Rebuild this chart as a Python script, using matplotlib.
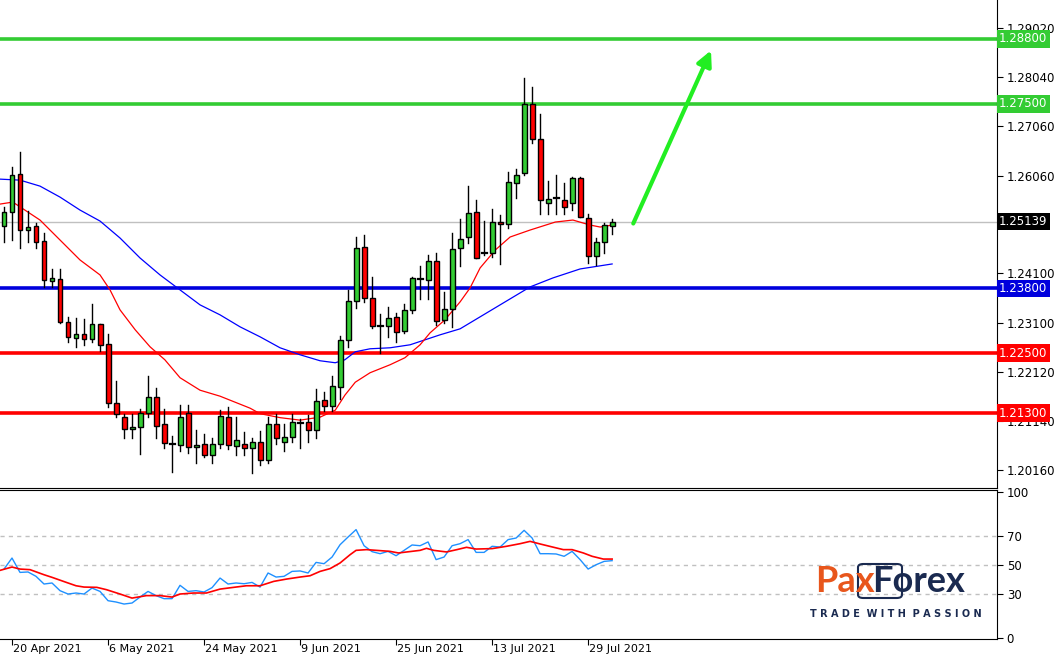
import matplotlib
matplotlib.use("Agg")
import matplotlib.pyplot as plt
from matplotlib.patches import Rectangle, FancyBboxPatch
import numpy as np

# ---- data ----
opens  = [1.2505,1.2533,1.2609,1.2497,1.2505,1.2475,1.2395,1.2399,1.2313,1.2281,1.2289,1.2279,1.2309,1.2269,1.2151,1.2123,1.2098,1.2102,1.2131,1.2163,
          1.2108,1.2068,1.2066,1.2131,1.2062,1.2068,1.2046,1.2068,1.2123,1.2064,1.2068,1.2060,1.2072,1.2036,1.2108,1.2072,1.2082,1.2110,1.2112,1.2096,
          1.2157,1.2145,1.2183,1.2277,1.2355,1.2463,1.2361,1.2305,1.2305,1.2323,1.2295,1.2337,1.2399,1.2397,1.2435,1.2317,1.2339,1.2461,1.2483,1.2533,
          1.2451,1.2451,1.2513,1.2509,1.2591,1.2611,1.2750,1.2679,1.2551,1.2561,1.2557,1.2551,1.2601,1.2521,1.2445,1.2473,1.2505]
highs  = [1.2543,1.2623,1.2653,1.2535,1.2511,1.2491,1.2419,1.2419,1.2323,1.2321,1.2319,1.2349,1.2309,1.2289,1.2195,1.2129,1.2129,1.2139,1.2205,1.2181,
          1.2139,1.2084,1.2147,1.2147,1.2096,1.2088,1.2080,1.2136,1.2143,1.2123,1.2092,1.2080,1.2094,1.2123,1.2129,1.2108,1.2129,1.2119,1.2127,1.2179,
          1.2173,1.2205,1.2285,1.2377,1.2483,1.2487,1.2403,1.2329,1.2343,1.2331,1.2349,1.2403,1.2425,1.2447,1.2451,1.2373,1.2491,1.2519,1.2585,1.2557,
          1.2515,1.2539,1.2527,1.2613,1.2619,1.2802,1.2784,1.2730,1.2595,1.2607,1.2591,1.2603,1.2603,1.2529,1.2481,1.2511,1.2519]
lows   = [1.2473,1.2477,1.2461,1.2473,1.2461,1.2383,1.2383,1.2311,1.2273,1.2263,1.2267,1.2273,1.2255,1.2143,1.2123,1.2080,1.2080,1.2048,1.2123,1.2080,
          1.2060,1.2012,1.2054,1.2050,1.2030,1.2042,1.2030,1.2060,1.2058,1.2046,1.2046,1.2010,1.2026,1.2030,1.2068,1.2054,1.2072,1.2060,1.2072,1.2080,
          1.2135,1.2135,1.2159,1.2263,1.2341,1.2353,1.2301,1.2251,1.2283,1.2273,1.2291,1.2331,1.2359,1.2359,1.2307,1.2311,1.2303,1.2425,1.2471,1.2441,
          1.2447,1.2443,1.2429,1.2501,1.2561,1.2607,1.2671,1.2529,1.2529,1.2529,1.2529,1.2537,1.2523,1.2431,1.2427,1.2451,1.2489]
closes = [1.2533,1.2607,1.2497,1.2503,1.2473,1.2397,1.2401,1.2313,1.2283,1.2289,1.2279,1.2309,1.2267,1.2151,1.2129,1.2098,1.2102,1.2131,1.2163,1.2104,
          1.2070,1.2067,1.2123,1.2062,1.2066,1.2046,1.2068,1.2125,1.2066,1.2076,1.2060,1.2072,1.2036,1.2108,1.2080,1.2082,1.2112,1.2108,1.2096,1.2155,
          1.2145,1.2185,1.2277,1.2355,1.2461,1.2361,1.2305,1.2304,1.2321,1.2293,1.2337,1.2401,1.2400,1.2435,1.2315,1.2339,1.2459,1.2479,1.2531,1.2441,
          1.2452,1.2513,1.2509,1.2593,1.2607,1.2750,1.2679,1.2557,1.2559,1.2560,1.2543,1.2601,1.2523,1.2445,1.2473,1.2507,1.2514]

ma_fast_pos = [0.5,2.1,5.5,8,10.5,13,14.25,15.5,17.4,19.25,21.1,23,25.5,28,31.75,33,35.5,38,40.5,42.4,43.6,44.9,46.75,49.25,51.1,53,54.25,56.1,58,59.25,60.5,62.4,64.25,66.75,69.9,72.1,74.25,75.5,77]
ma_fast_val = [1.2549,1.2553,1.2517,1.2477,1.2437,1.2407,1.2377,1.2337,1.2297,1.2263,1.2237,1.2201,1.2176,1.2164,1.2140,1.2129,1.2121,1.2116,1.2122,1.2136,1.2166,1.2192,1.2211,1.2227,1.2241,1.2267,1.2291,1.2317,1.2353,1.2381,1.2421,1.2457,1.2483,1.2497,1.2513,1.2517,1.2507,1.2503,1.2507]
ma_slow_pos = [0.5,3,5.5,8,10.5,13,15.5,18,20.5,23,25.5,28,30.5,33,35.5,38,40.5,42.4,43.6,44.9,46.75,49.25,51.75,55.5,58,63,66.75,69.6,73,77]
ma_slow_val = [1.2599,1.2597,1.2585,1.2563,1.2537,1.2515,1.2481,1.2441,1.2407,1.2377,1.2347,1.2327,1.2303,1.2283,1.2261,1.2247,1.2235,1.2231,1.2237,1.2253,1.2259,1.2261,1.2267,1.2287,1.2299,1.2347,1.2383,1.2401,1.2419,1.2429]

rsi = [47.2,54.8,44.9,45.2,42.2,36.9,37.6,32.3,30.0,30.7,30.0,34.1,31.8,25.4,24.5,23.1,23.8,27.9,31.8,28.9,
       26.8,26.8,36.0,31.8,32.3,31.4,34.4,41.0,36.9,37.6,37.1,38.0,34.8,44.5,41.7,42.2,45.6,45.9,44.5,51.8,
       50.9,55.5,64.0,69.3,74.4,63.3,59.2,57.8,59.4,56.4,60.1,63.8,63.3,65.9,53.7,55.5,63.3,64.7,67.5,58.7,
       58.7,62.9,62.4,67.5,68.6,73.9,68.6,57.8,57.8,57.6,56.0,59.4,53.7,47.2,50.2,52.5,53.0]
sig_pos = [0.5,2,3,4.25,6,7,8.8,10,11,12.6,13.8,15.5,17,18.8,20.5,22,23,24.7,26.3,28,29.7,31.3,33,34.7,36.3,38,39.25,40.5,41.75,
           43,44.25,45,46.3,49.25,50.3,53,53.8,54.7,56.3,57.6,58.8,60,62,63.8,65.5,66.75,68,69.7,70.9,72,73.4,74.5,75.9,77]
sig_val = [46.3,48.6,47.2,46.8,43.3,41.5,38.0,35.7,34.8,34.6,33.0,30.0,27.2,28.9,28.9,27.9,30.0,30.7,30.7,33.4,34.6,35.7,35.7,38.7,40.3,41.7,42.6,45.6,47.5,
           51.4,57.1,60.1,60.6,59.4,58.3,60.1,61.5,60.1,59.0,60.6,62.2,61.0,61.3,62.9,64.7,66.3,64.5,62.2,60.6,60.6,58.3,56.0,54.1,54.1]

date_labels = ["20 Apr 2021","6 May 2021","24 May 2021","9 Jun 2021","25 Jun 2021","13 Jul 2021","29 Jul 2021"]
date_pos = [2,14,26,38,50,62,74]
price_ticks = [1.29020,1.28040,1.27060,1.26060,1.24100,1.23100,1.22120,1.21140,1.20160]
green_levels = [1.2880,1.2750]
blue_levels = [1.2380]
red_levels = [1.2250,1.2130]
last_price = 1.25139
arrow_start = (79.5, 1.2505)
arrow_end = (89.5, 1.2862)

# ---- figure ----
W, H = 1059, 661
fig = plt.figure(figsize=(W/100, H/100), dpi=100)
fig.patch.set_facecolor("white")
right = 997/W
ax = fig.add_axes([0, 1-488/H, right, 488/H])
ax2 = fig.add_axes([0, 1-639/H, right, (639-490)/H])

CANDLE_G = "#33cc33"
n = len(opens)
x = np.arange(1, n+1)
ax.set_xlim(0.5, 125.1)
ax.set_ylim(1.1980, 1.2958)

ax.plot(ma_slow_pos, ma_slow_val, color="#0000ff", lw=0.9, zorder=2)
ax.plot(ma_fast_pos, ma_fast_val, color="#ff0000", lw=0.9, zorder=2)

for lv in green_levels:
    ax.axhline(lv, color="#33cc33", lw=2.6, zorder=1)
for lv in blue_levels:
    ax.axhline(lv, color="#0000dd", lw=2.6, zorder=1)
for lv in red_levels:
    ax.axhline(lv, color="#ff0000", lw=2.6, zorder=1)
ax.axhline(last_price, color="#c0c0c0", lw=1, zorder=0)

bw = 0.62
for i in range(n):
    o, h, l, c = opens[i], highs[i], lows[i], closes[i]
    ax.plot([x[i], x[i]], [l, h], color="black", lw=1, zorder=3)
    col = CANDLE_G if c >= o else "#ff0000"
    lo, hi = min(o, c), max(o, c)
    if hi - lo < 0.0002:
        ax.plot([x[i]-bw/2, x[i]+bw/2], [o, o], color="black", lw=1.6, zorder=4)
    else:
        ax.add_patch(Rectangle((x[i]-bw/2, lo), bw, hi-lo, facecolor=col,
                               edgecolor="black", lw=1, zorder=4))

ax.annotate("", xy=arrow_end, xytext=arrow_start,
            arrowprops=dict(arrowstyle="-|>,head_length=0.9,head_width=0.45",
                            color="#22ee22", lw=3), zorder=5)

ax.yaxis.tick_right()
ax.set_yticks(price_ticks)
ax.set_yticklabels([f"{v:.5f}" for v in price_ticks], fontsize=8.5)
ax.tick_params(axis="y", length=4, pad=3, direction="out")
ax.set_xticks([])
for s in ["top", "left"]:
    ax.spines[s].set_visible(False)

def box(axis, val, text, fc, tc):
    axis.text(1.002, val, text, transform=axis.get_yaxis_transform(), fontsize=8.5,
              color=tc, va="center", ha="left",
              bbox=dict(boxstyle="square,pad=0.2", fc=fc, ec="none"), clip_on=False, zorder=10)

for lv in green_levels:
    box(ax, lv, f"{lv:.5f}", "#33cc33", "white")
box(ax, blue_levels[0], f"{blue_levels[0]:.5f}", "#0000dd", "white")
for lv in red_levels:
    box(ax, lv, f"{lv:.5f}", "#ff0000", "white")
box(ax, last_price, f"{last_price:.5f}", "black", "white")

# RSI
ax2.set_xlim(0.5, 125.1)
ax2.set_ylim(-1, 101.7)
for lv in [70, 50, 30]:
    ax2.axhline(lv, color="#c0c0c0", lw=1, ls=(0, (3, 3)), zorder=0)
ax2.plot(x, rsi, color="#1e90ff", lw=1, zorder=2)
ax2.plot(sig_pos, sig_val, color="#ff0000", lw=1.2, zorder=3)
ax2.yaxis.tick_right()
ax2.set_yticks([0, 30, 50, 70, 100])
ax2.set_yticklabels(["0", "30", "50", "70", "100"], fontsize=8.5)
ax2.tick_params(axis="y", length=4, pad=3)
ax2.set_xticks(date_pos)
ax2.set_xticklabels([])
ax2.tick_params(axis="x", length=4, direction="out")
for p, lab in zip(date_pos, date_labels):
    ax2.text(p + 0.1, -0.035, lab, transform=ax2.get_xaxis_transform(), fontsize=8,
             ha="left", va="top", clip_on=False)
ax2.spines["left"].set_visible(False)

# logo
fig.text(815/W, 1-582/H, "Pax", fontsize=26, fontweight="bold", color="#e8561c",
         ha="left", va="center", family="Lato")
fig.text(872/W, 1-582/H, "Forex", fontsize=26, fontweight="bold", color="#1a2a50",
         ha="left", va="center", family="Lato")
fig.patches.append(FancyBboxPatch((858/W, 1-598/H), 44/W, 34/H,
                                  boxstyle="round,pad=0,rounding_size=0.005",
                                  transform=fig.transFigure, fill=False, ec="#1a2a50", lw=1.5))
fig.text(896/W, 1-614/H, "T R A D E  W I T H  P A S S I O N", fontsize=7, fontweight="bold",
         color="#1a2a50", ha="center", va="center")

fig.savefig("out.png", dpi=100, facecolor="white")
